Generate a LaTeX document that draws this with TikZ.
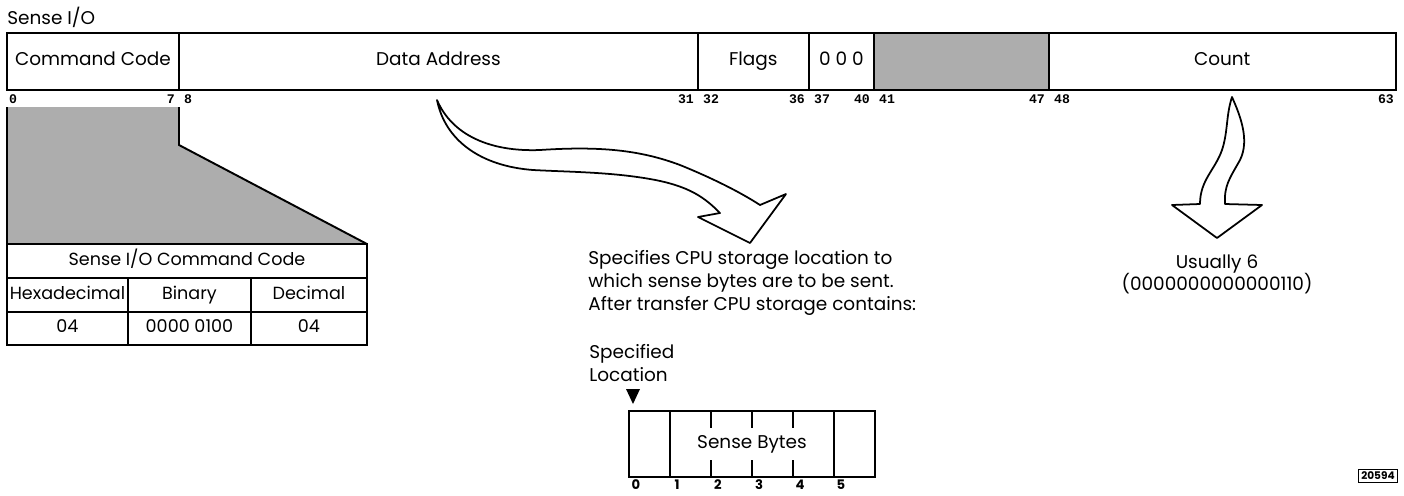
\documentclass[tikz,border=0pt]{standalone}
\usepackage{fontspec}
\setmainfont{Poppins}
\newfontfamily\bitfont{Liberation Mono}
\usetikzlibrary{positioning}
\definecolor{ibmDot}{gray}{0.68}

\begin{document}
\begin{tikzpicture}[x=0.02cm, y=-0.02cm,
    field/.style={draw, line width=1.1pt, outer sep=0pt, minimum height=1.14cm,
      inner sep=0pt, text height=0.75em, text depth=0.25em, font=\fontsize{10.5}{12}\selectfont},
    cell/.style={draw, line width=1.1pt, outer sep=0pt, inner sep=0pt,
      text height=0.75em, text depth=0.25em, font=\fontsize{10}{12}\selectfont},
    bitno/.style={font=\bitfont\fontsize{7.5}{8}\bfseries\selectfont, inner sep=1pt},
    lbl/.style={font=\fontsize{10.5}{13}\selectfont, inner sep=0pt, align=left},
    hollow/.style={draw, fill=white, line width=1pt, line join=round}]
  \useasboundingbox (0,0) rectangle (1404,495);
  \node[lbl, anchor=west] (title) at (7,17) {Sense I/O};
  % the command word
  \node[field, minimum width=3.44cm, anchor=north west] (cmd) at (7,33) {Command Code};
  \node[field, minimum width=10.38cm, right=0pt of cmd] (addr) {Data Address};
  \node[field, minimum width=2.22cm, right=0pt of addr] (flags) {Flags};
  \node[field, minimum width=1.30cm, right=0pt of flags] (zeros) {0 0 0};
  \node[field, minimum width=3.50cm, right=0pt of zeros, fill=ibmDot] (resv) {};
  \node[field, minimum width=6.94cm, right=0pt of resv] (count) {Count};
  \foreach \x/\t/\a [count=\i] in {7/0/west, 177/7/east, 182/8/west, 696/31/east,
      701/32/west, 807/36/east, 812/37/west, 872/40/east, 877/41/west,
      1047/47/east, 1052/48/west, 1396/63/east}
    \node[bitno, anchor=\a] (bit\i) at (\x,99) {\t};
  % expansion of the command code
  \fill[ibmDot] (7,107) -- (179,107) -- (179,145) -- (367,244) -- (7,244) -- cycle;
  \draw[line width=1.1pt] (7,107) -- (7,244);
  \draw[line width=1.1pt] (179,107) -- (179,145) -- (367,244);
  \node[cell, minimum width=7.2cm, minimum height=0.68cm, anchor=north west] (ttl) at (7,244) {Sense I/O Command Code};
  \node[cell, minimum width=2.42cm, minimum height=0.68cm, below=0pt of ttl.south west, anchor=north west] (hex) {Hexadecimal};
  \node[cell, minimum width=2.46cm, minimum height=0.68cm, right=0pt of hex] (bin) {Binary};
  \node[cell, minimum width=2.32cm, minimum height=0.68cm, right=0pt of bin] (dec) {Decimal};
  \node[cell, minimum width=2.42cm, minimum height=0.66cm, below=0pt of hex] (hexv) {04};
  \node[cell, minimum width=2.46cm, minimum height=0.66cm, right=0pt of hexv] (binv) {0000 0100};
  \node[cell, minimum width=2.32cm, minimum height=0.66cm, right=0pt of binv] (decv) {04};
  % data address arrow
  \draw[hollow] (437,100) .. controls (452,135) and (490,152) .. (540,150)
    .. controls (600,146) and (640,150) .. (680,165)
    .. controls (712,178) and (740,192) .. (760,205) -- (786,194) -- (750,243)
    -- (698,217) -- (720,213) .. controls (705,198) and (690,186) .. (650,179)
    .. controls (610,172) and (570,172) .. (533,170)
    .. controls (480,166) and (445,140) .. (437,100) -- cycle;
  \node[lbl, anchor=north west] (spec) at (588,250)
    {Specifies CPU storage location to\\which sense bytes are to be sent.\\After transfer CPU storage contains:};
  % count arrow
  \draw[hollow] (1232,97) .. controls (1240,115) and (1250,140) .. (1240,160)
    .. controls (1230,178) and (1224,185) .. (1225,204) -- (1262,205) -- (1217,238)
    -- (1172,205) -- (1200,204) .. controls (1200,180) and (1215,170) .. (1222,150)
    .. controls (1228,132) and (1226,115) .. (1232,97) -- cycle;
  \node[lbl, align=center, anchor=north] (usual) at (1217,254) {Usually 6\\(0000000000000110)};
  % sense bytes in storage
  \node[lbl, anchor=north west] (loc) at (589,344) {Specified\\Location};
  \fill (626,389) -- (640,389) -- (633,404) -- cycle;
  \node[field, minimum width=4.92cm, minimum height=1.32cm, anchor=north west] (sense) at (629,411) {Sense Bytes};
  \foreach \k in {1,5}
    \draw[line width=1.1pt] (629+41*\k,411) -- (629+41*\k,477);
  \foreach \k in {2,3,4} {
    \draw[line width=1.1pt] (629+41*\k,411) -- (629+41*\k,428);
    \draw[line width=1.1pt] (629+41*\k,460) -- (629+41*\k,477);
  }
  \foreach \k in {0,...,5}
    \node[font=\fontsize{7.5}{8}\bfseries\selectfont, inner sep=0pt, anchor=south] (byte\k) at (636+41*\k,490) {\k};
  \node[draw, line width=0.8pt, inner sep=1.5pt, font=\fontsize{6}{7}\bfseries\selectfont] (fig) at (1378,476) {20594};
\end{tikzpicture}
\end{document}
